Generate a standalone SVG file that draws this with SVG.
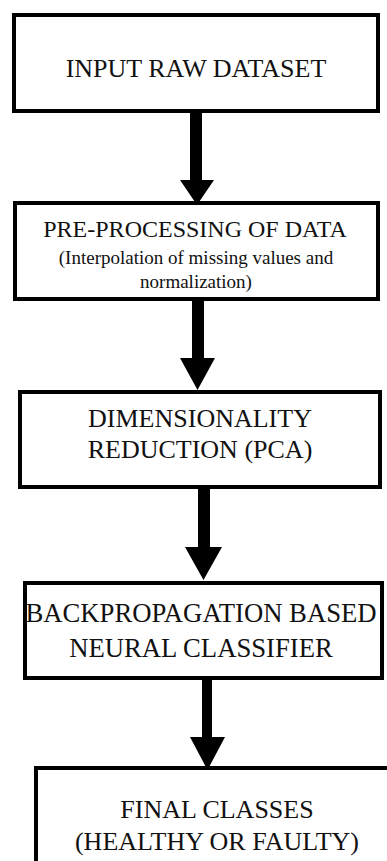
<svg xmlns="http://www.w3.org/2000/svg" width="387" height="861" viewBox="0 0 387 861">
<style>
.box{fill:#fff;stroke:#000;stroke-width:4}
.t{font-family:'Liberation Serif','Times New Roman','DejaVu Serif',serif;fill:#111;text-anchor:middle}
.big{font-size:26px}
.bp{font-size:26.7px}
.mid{font-size:24px}
.small{font-size:19px}
.arr{fill:#000}
</style>
<rect width="387" height="861" fill="#fff"/>
<g id="connectors">
<path class="arr" d="M190,113H202V180H214L197,205L180,180H190Z"/>
<path class="arr" d="M192,301H204V358H215L197.5,390L180,358H192Z"/>
<path class="arr" d="M198,489H210V547H222L203.5,580L185,547H198Z"/>
<path class="arr" d="M202,680H212V737H225L207.5,770L190,737H202Z"/>
</g>
<g id="n1">
<rect class="box" x="14" y="15" width="364" height="96"/>
<text class="t big" x="196" y="77">INPUT RAW DATASET</text>
</g>
<g id="n2">
<rect class="box" x="15" y="203" width="363" height="96"/>
<text class="t mid" x="195" y="237">PRE-PROCESSING OF DATA</text>
<text class="t small" x="196" y="264">(Interpolation of missing values and</text>
<text class="t small" x="196" y="288">normalization)</text>
</g>
<g id="n3">
<rect class="box" x="20" y="392" width="360" height="95"/>
<text class="t big" x="200" y="427">DIMENSIONALITY</text>
<text class="t big" x="200" y="458">REDUCTION (PCA)</text>
</g>
<g id="n4">
<rect class="box" x="25" y="583" width="357" height="95"/>
<text class="t bp" x="201" y="622">BACKPROPAGATION BASED</text>
<text class="t bp" x="201" y="657">NEURAL CLASSIFIER</text>
</g>
<g id="n5">
<rect class="box" x="36" y="768" width="360" height="110"/>
<text class="t big" x="217" y="818">FINAL CLASSES</text>
<text class="t big" x="217" y="850">(HEALTHY OR FAULTY)</text>
</g>
</svg>
